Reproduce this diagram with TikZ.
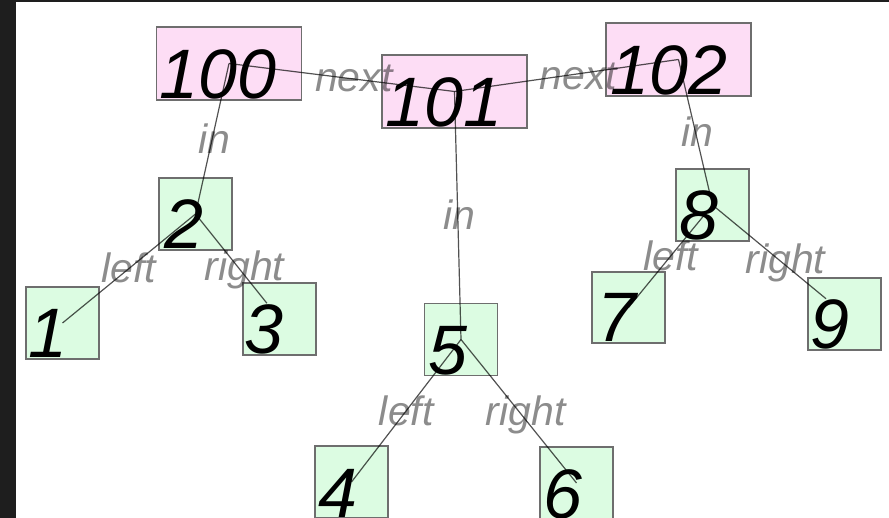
\documentclass[tikz,border=0pt]{standalone}
\usepackage{fontspec}
\setmainfont{Liberation Sans}
\usetikzlibrary{calc}
\definecolor{framebg}{HTML}{1E1E1E}
\definecolor{pinkfill}{HTML}{FDDDF5}
\definecolor{greenfill}{HTML}{DCFCE2}
\definecolor{boxline}{HTML}{6E6E6E}
\begin{document}
\begin{tikzpicture}[x=1pt,y=-1pt,
  box/.style={draw=boxline,line width=1.4pt,inner sep=0pt,outer sep=0pt},
  headbox/.style={box,fill=pinkfill,minimum width=145pt,minimum height=73pt},
  leafbox/.style={box,fill=greenfill,minimum width=73pt,minimum height=72pt},
  digit/.style={font=\fontsize{70}{70}\selectfont\itshape,inner sep=0pt,anchor=base west,text=black},
  edgelbl/.style={font=\fontsize{41}{41}\selectfont\itshape,text=black,text opacity=0.45,
    inner sep=0pt,text height=29pt,text depth=0pt,anchor=center},
  link/.style={draw=black,draw opacity=0.68,line width=1.2pt}
]
\useasboundingbox (0,0) rectangle (889,518);
\fill[framebg] (0,0) rectangle (16,518);
\fill[framebg] (0,0) rectangle (889,2);

% list heads
\node[headbox,label={[digit,xshift=3pt,yshift=1pt]south west:100}] (n100) at (229,63.5) {};
\node[headbox,label={[digit,xshift=3pt,yshift=1pt]south west:101}] (n101) at (454.5,91.5) {};
\node[headbox,label={[digit,xshift=4pt,yshift=1pt]south west:102}] (n102) at (678.5,59.5) {};

% tree nodes
\node[leafbox,label={[digit,xshift=5pt,yshift=1pt]south west:2}] (n2) at (195.5,214) {};
\node[leafbox,label={[digit,xshift=2pt,yshift=1pt]south west:1}] (n1) at (62.5,323) {};
\node[leafbox,label={[digit,xshift=1pt,yshift=1pt]south west:3}] (n3) at (279.5,319) {};
\node[leafbox,label={[digit,xshift=4pt,yshift=1pt]south west:5}] (n5) at (461,339.5) {};
\node[leafbox,label={[digit,xshift=3pt,yshift=1pt]south west:4}] (n4) at (351.5,482) {};
\node[leafbox,label={[digit,xshift=3pt,yshift=1pt]south west:6}] (n6) at (576.5,483) {};
\node[leafbox,label={[digit,xshift=3pt,yshift=1pt]south west:8}] (n8) at (712.5,205) {};
\node[leafbox,minimum height=71pt,label={[digit,xshift=5pt,yshift=1pt]south west:7}] (n7) at (628.5,307.5) {};
\node[leafbox,label={[digit,xshift=2pt,yshift=1pt]south west:9}] (n9) at (844.5,314) {};

% edge labels
\path (n100.center) -- node[edgelbl,xshift=12pt]{next} (n101.center);
\path (n101.center) -- node[edgelbl,xshift=12pt]{next} (n102.center);
\path (n100.center) -- node[edgelbl,xshift=2pt]{in} (n2.center);
\path (n101.center) -- node[edgelbl,xshift=2pt]{in} (n5.center);
\path (n102.center) -- node[edgelbl,xshift=2pt]{in} (n8.center);
\path (n2.center) -- node[edgelbl]{left} (n1.center);
\path (n2.center) -- node[edgelbl,xshift=7pt]{right} (n3.center);
\path (n5.center) -- node[edgelbl]{left} (n4.center);
\path (n5.center) -- node[edgelbl,xshift=7pt]{right} (n6.center);
\path (n8.center) -- node[edgelbl]{left} (n7.center);
\path (n8.center) -- node[edgelbl,xshift=7pt]{right} (n9.center);

% connectors
\draw[link] (n100.center) -- (n101.center) -- (n102.center);
\draw[link] (n100.center) -- (n2.center);
\draw[link] (n101.center) -- (n5.center);
\draw[link] (n102.center) -- (n8.center);
\draw[link] (n2.center) -- (n1.center);
\draw[link] (n2.center) -- ($(n2.center)!0.85!(n3.center)$);
\draw[link] (n5.center) -- (n4.center);
\draw[link] (n5.center) -- (n6.center);
\draw[link] (n8.center) -- (n7.center);
\draw[link] (n8.center) -- ($(n8.center)!0.86!(n9.center)$);
\end{tikzpicture}
\end{document}
